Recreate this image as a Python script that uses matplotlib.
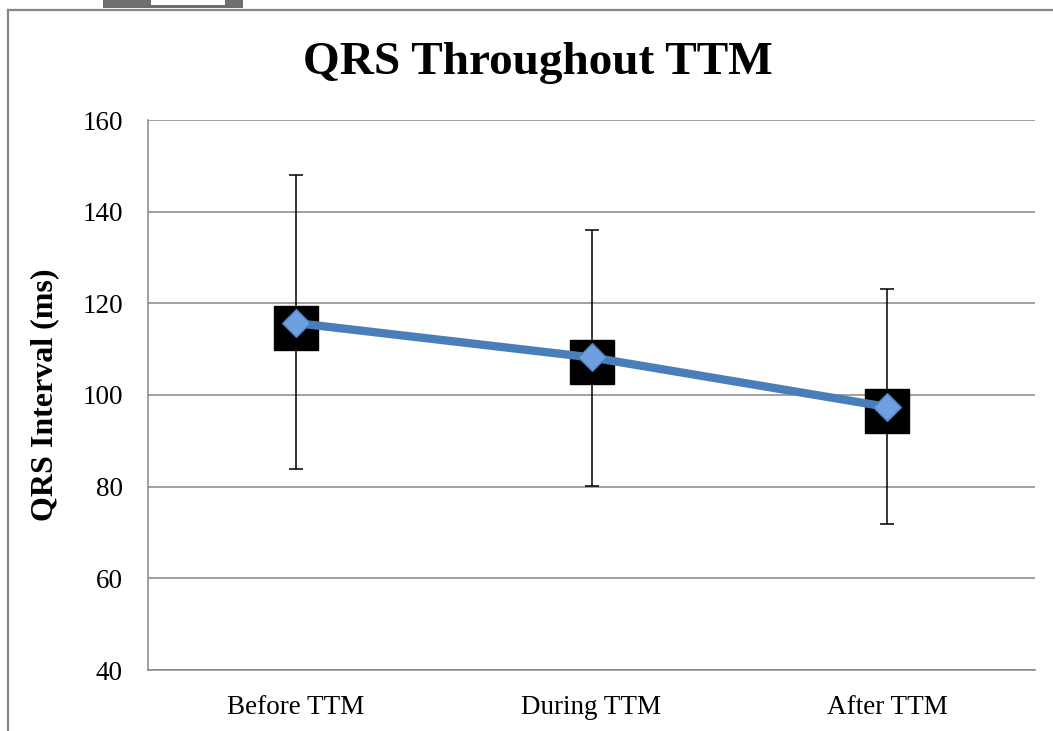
import matplotlib
matplotlib.use("Agg")
import matplotlib.pyplot as plt
from matplotlib.patches import Rectangle
from matplotlib.lines import Line2D

categories = ["Before TTM", "During TTM", "After TTM"]
mean_qrs = [115.7, 108.2, 97.4]
square_qrs = [114.7, 107.2, 96.6]
err_center = [115.9, 108.1, 97.45]
err_sd = [32.0, 28.0, 25.6]
yticks = [40, 60, 80, 100, 120, 140, 160]

plt.rcParams['font.family'] = ['Liberation Serif', 'DejaVu Serif']

W, H = 1053, 731
fig = plt.figure(figsize=(W / 100, H / 100), dpi=100)
fig.patch.set_facecolor('white')

# outer frame and top artifact
fig.add_artist(Line2D([8 / W, 8 / W], [0, 1 - 10 / H], transform=fig.transFigure,
                      color='#878787', lw=1.6))
fig.add_artist(Line2D([8 / W, 1], [1 - 10 / H, 1 - 10 / H], transform=fig.transFigure,
                      color='#878787', lw=1.6))
fig.add_artist(Rectangle((103 / W, 1 - 8 / H), 140 / W, 8 / H, transform=fig.transFigure,
                         facecolor='#6e6e6e', edgecolor='none'))
fig.add_artist(Rectangle((151 / W, 1 - 5 / H), 74 / W, 5 / H, transform=fig.transFigure,
                         facecolor='white', edgecolor='none'))

ax = fig.add_axes([148 / W, 1 - 670 / H, 887 / W, 550 / H])
x = list(range(len(categories)))

ax.set_xlim(-0.5, 2.5)
ax.set_ylim(40, 160)
ax.set_yticks(yticks)
ax.set_xticks(x)
ax.set_xticklabels(categories)
ax.yaxis.grid(True, color='#868686', lw=1.1)
ax.set_axisbelow(True)
for s in ['top', 'right']:
    ax.spines[s].set_visible(False)
for s in ['left', 'bottom']:
    ax.spines[s].set_color('#868686')
    ax.spines[s].set_linewidth(1.1)
ax.tick_params(axis='both', length=0, labelsize=19.5)
ax.tick_params(axis='y', pad=18)
ax.tick_params(axis='x', pad=18)

ax.errorbar(x, err_center, yerr=err_sd, fmt='none', ecolor='black', elinewidth=1.1,
            capsize=4.7, capthick=1.1, zorder=3)
ax.plot(x, square_qrs, linestyle='none', marker='s', markersize=32, color='black', zorder=4)
ax.plot(x, mean_qrs, color='#4a7ebb', lw=6, zorder=5)
ax.plot(x, mean_qrs, linestyle='none', marker='D', markersize=14,
        markerfacecolor='#6f9fe0', markeredgecolor='#4a7ebb', markeredgewidth=1, zorder=6)

ax.set_ylabel("QRS Interval (ms)", fontsize=23, fontweight='bold', labelpad=17)
fig.text(538 / W, 1 - 63 / H, "QRS Throughout TTM", fontsize=34, fontweight='bold',
         ha='center', va='center')

fig.savefig("out.png", dpi=100, facecolor='white')
